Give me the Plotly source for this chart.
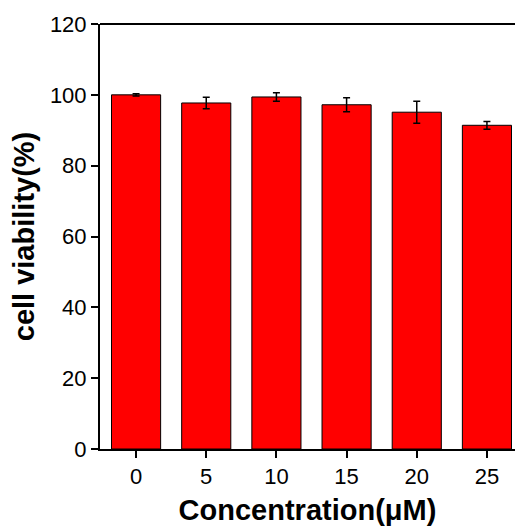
import plotly.graph_objects as go

concentrations = [0, 5, 10, 15, 20, 25]
viability = [100.0, 97.7, 99.4, 97.2, 95.1, 91.4]
errors = [0.3, 1.6, 1.2, 2.0, 3.1, 1.1]
y_ticks = [0, 20, 40, 60, 80, 100, 120]

fig = go.Figure()
fig.add_trace(go.Bar(
    x=concentrations, y=viability, width=3.5,
    marker=dict(color="#FF0000", line=dict(color="black", width=1)),
    error_y=dict(type="data", array=errors, visible=True, color="black",
                 thickness=1.5, width=3.5),
))

font_family = "Liberation Sans, Arial, sans-serif"
fig.update_layout(
    width=515, height=531,
    margin=dict(l=100, r=0, t=24, b=82),
    plot_bgcolor="white", paper_bgcolor="white",
    showlegend=False,
    font=dict(family=font_family, color="black"),
    xaxis=dict(
        range=[-2.57, 27.0], tickvals=concentrations,
        ticktext=[str(c) for c in concentrations],
        showline=True, linecolor="black", linewidth=2,
        ticks="outside", ticklen=7, tickwidth=1.5, tickcolor="black",
        tickfont=dict(size=22, family=font_family),
        showgrid=False, zeroline=False,
        title=dict(text="<b>Concentration(μM)</b>", font=dict(size=29, family=font_family), standoff=11),
    ),
    yaxis=dict(
        range=[0, 120], tickvals=y_ticks,
        showline=True, linecolor="black", linewidth=2,
        ticks="outside", ticklen=7, tickwidth=1.5, tickcolor="black",
        tickfont=dict(size=22, family=font_family),
        showgrid=False, zeroline=False,
        title=dict(text="<b>cell viability(%)</b>", font=dict(size=29, family=font_family), standoff=7),
    ),
    shapes=[dict(type="line", xref="paper", yref="paper", x0=0, x1=1, y0=1, y1=1,
                 line=dict(color="black", width=2))],
)

fig.write_html("out.html")
